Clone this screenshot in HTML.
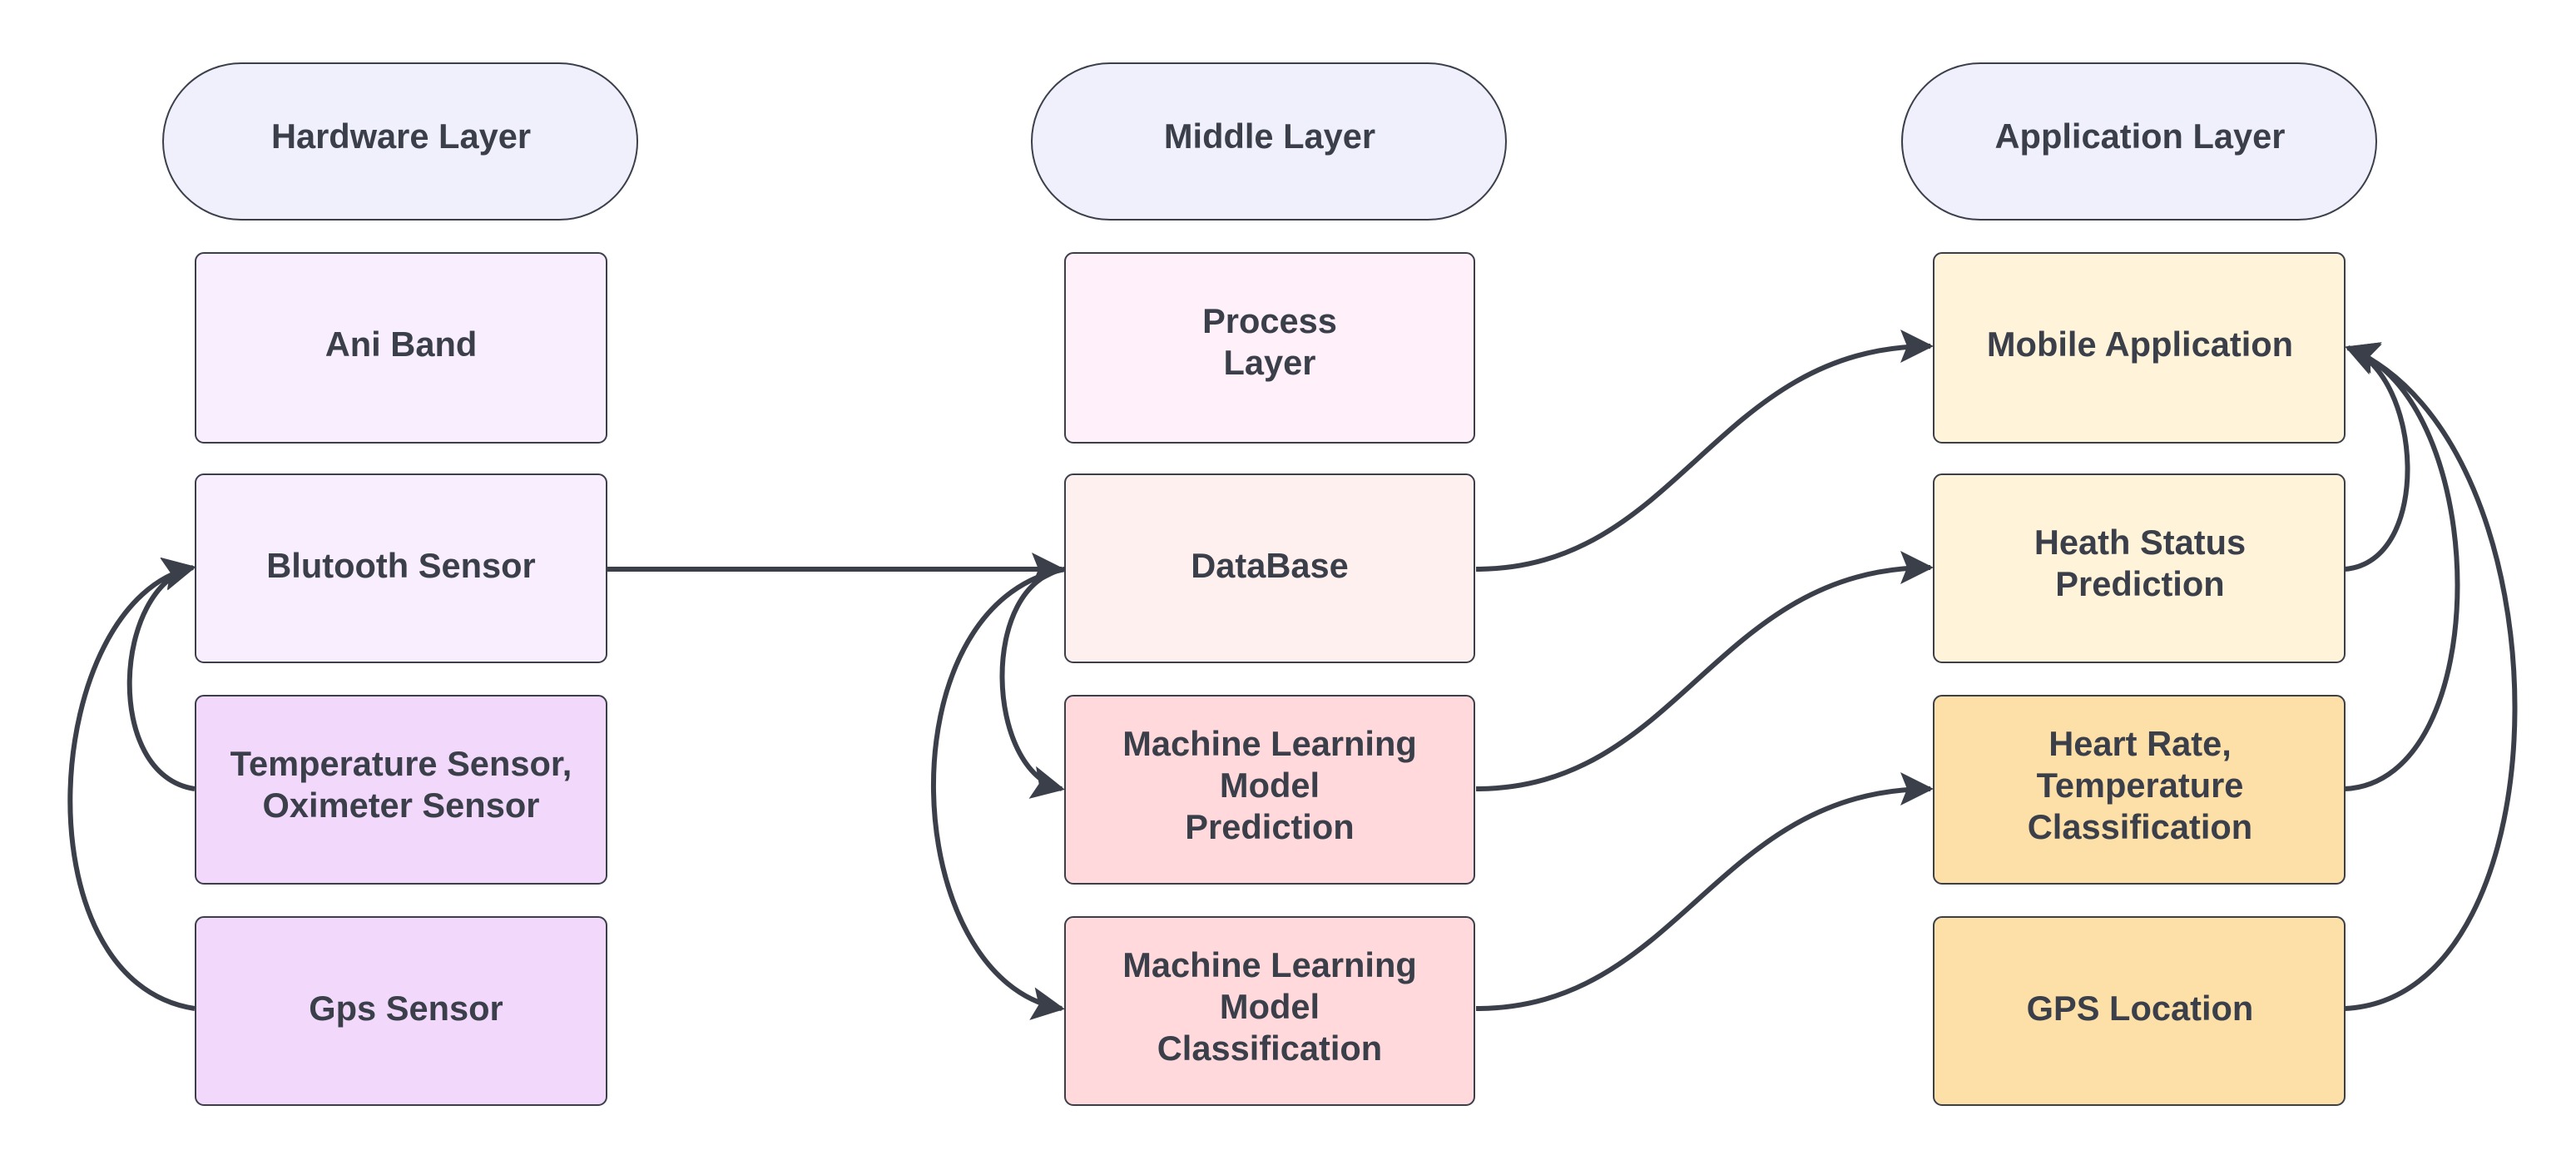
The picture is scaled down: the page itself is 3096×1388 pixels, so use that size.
<!DOCTYPE html>
<html><head><style>html,body{margin:0;padding:0;background:#fff}svg{display:block}</style></head>
<body>
<svg width="3096" height="1388" viewBox="0 0 1548 694" xmlns="http://www.w3.org/2000/svg">
<defs>
<marker id="ar" viewBox="0 0 10 10" refX="9" refY="5" markerWidth="20" markerHeight="20" markerUnits="userSpaceOnUse" orient="auto">
<path d="M0,0 L10,5 L0,10 L2,5 z" fill="#3a3f4a"/>
</marker>
</defs>
<g font-family="Liberation Sans, sans-serif" font-weight="bold" font-size="20.8" fill="#3a3f4a" text-anchor="middle">
<g stroke="#3a3f4a" stroke-width="1">
<rect x="98" y="38" width="285" height="94" rx="47" fill="#f0f0fc"/>
<rect x="620" y="38" width="285" height="94" rx="47" fill="#f0f0fc"/>
<rect x="1143" y="38" width="285" height="94" rx="47" fill="#f0f0fc"/>

<rect x="117.5" y="152" width="247" height="114" rx="5" fill="#f9eefe"/>
<rect x="117.5" y="285" width="247" height="113" rx="5" fill="#f9eefe"/>
<rect x="117.5" y="418" width="247" height="113" rx="5" fill="#f2d9fc"/>
<rect x="117.5" y="551" width="247" height="113" rx="5" fill="#f2d9fc"/>

<rect x="640" y="152" width="246" height="114" rx="5" fill="#fff0fa"/>
<rect x="640" y="285" width="246" height="113" rx="5" fill="#fff0f0"/>
<rect x="640" y="418" width="246" height="113" rx="5" fill="#ffd9dc"/>
<rect x="640" y="551" width="246" height="113" rx="5" fill="#ffd9dc"/>

<rect x="1162" y="152" width="247" height="114" rx="5" fill="#fff3d9"/>
<rect x="1162" y="285" width="247" height="113" rx="5" fill="#fff3d9"/>
<rect x="1162" y="418" width="247" height="113" rx="5" fill="#fddfa8"/>
<rect x="1162" y="551" width="247" height="113" rx="5" fill="#fddfa8"/>
</g>
<text x="241" y="89">Hardware Layer</text>
<text x="763" y="89">Middle Layer</text>
<text x="1286" y="89">Application Layer</text>

<text x="241" y="214">Ani Band</text>
<text x="241" y="347">Blutooth Sensor</text>
<text x="241" y="466">Temperature Sensor,</text>
<text x="241" y="491">Oximeter Sensor</text>
<text x="244" y="613">Gps Sensor</text>

<text x="763" y="200">Process</text>
<text x="763" y="225">Layer</text>
<text x="763" y="347">DataBase</text>
<text x="763" y="454">Machine Learning</text>
<text x="763" y="479">Model</text>
<text x="763" y="504">Prediction</text>
<text x="763" y="587">Machine Learning</text>
<text x="763" y="612">Model</text>
<text x="763" y="637">Classification</text>

<text x="1286" y="214">Mobile Application</text>
<text x="1286" y="333">Heath Status</text>
<text x="1286" y="358">Prediction</text>
<text x="1286" y="454">Heart Rate,</text>
<text x="1286" y="479">Temperature</text>
<text x="1286" y="504">Classification</text>
<text x="1286" y="613">GPS Location</text>
</g>
<g fill="none" stroke="#3a3f4a" stroke-width="3" marker-end="url(#ar)">
<path d="M365,342 L638,342"/>
<path d="M117,474 C62,466 68,352 116,341"/>
<path d="M117,606 C10,590 25,360 116,341"/>
<path d="M640,342 C588,350 592,464 638,474"/>
<path d="M640,342 C530,362 540,590 638,606"/>
<path d="M887,342 C1010,342 1030,208 1160,208"/>
<path d="M887,474 C1010,474 1030,341 1160,341"/>
<path d="M887,606 C1010,606 1030,474 1160,474"/>
<path d="M1409,342 C1462,338 1456,225 1411,209"/>
<path d="M1409,474 C1500,470 1498,240 1411,209"/>
<path d="M1409,606 C1545,600 1545,265 1411,209"/>
</g>
</svg>
</body></html>
